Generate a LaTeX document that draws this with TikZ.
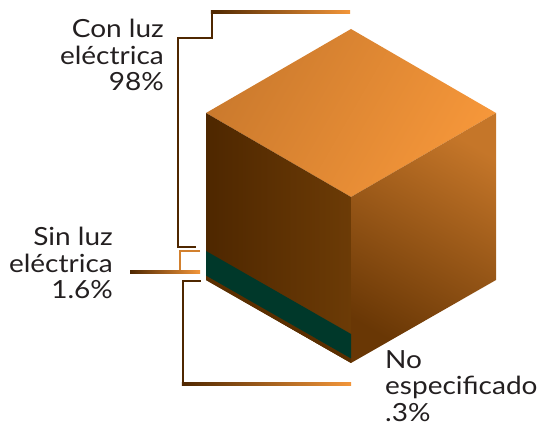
\documentclass[tikz,border=0pt]{standalone}
\usepackage{fontspec}
\setmainfont{Lato}[FakeStretch=1.12]
\usetikzlibrary{calc}
\definecolor{ink}{HTML}{231F20}
\definecolor{lbrown}{HTML}{4F2700}
\definecolor{lorange}{HTML}{F3963A}
\definecolor{topdark}{HTML}{CB7A2D}
\definecolor{toplight}{HTML}{F6973A}
\definecolor{leftdark}{HTML}{4E2700}
\definecolor{leftlight}{HTML}{6C3B06}
\definecolor{rightlight}{HTML}{C57629}
\definecolor{rightdark}{HTML}{693705}
\definecolor{band}{HTML}{00382A}
\definecolor{base}{HTML}{5A2E00}
\tikzset{
  label/.style={inner sep=0pt, text=ink, font=\fontsize{25}{26.5}\selectfont},
  leader/.style={draw=lbrown, line width=2.4pt},
}

\def\Lw{1.2}
\def\Bt{29}
\def\Bb{4.5}

\begin{document}
\begin{tikzpicture}[x=1pt,y=-1pt]
    \useasboundingbox (0,0) rectangle (542,425);
    % cube corners
    \coordinate (T)  at (351, 29);
    \coordinate (L)  at (206,113);
    \coordinate (R)  at (496,113);
    \coordinate (C)  at (351,197);
    \coordinate (LB) at (206,280);
    \coordinate (RB) at (496,280);
    \coordinate (B)  at (351,363);
    % faces
    \shade[left color=topdark, right color=toplight, shading angle=60]
      (T) -- (R) -- (C) -- (L) -- cycle;
    \shade[left color=leftdark, right color=leftlight]
      (L) -- (C) -- (B) -- (LB) -- cycle;
    \shade[left color=rightlight, right color=rightdark, shading angle=-30]
      (C) -- (R) -- (RB) -- (B) -- cycle;
    % bottom layers
    \fill[base] ($(LB)+(0,-\Bb)$) -- ($(B)+(0,-\Bb)$) -- (B) -- (LB) -- cycle;
    \fill[band] ($(LB)+(0,-\Bt)$) -- ($(B)+(0,-\Bt)$)
      -- ($(B)+(0,-\Bb)$) -- ($(LB)+(0,-\Bb)$) -- cycle;

    % labels (base = last line)
    \node[label, anchor=base east, align=right] (Con) at (164,91)
      {Con luz\\eléctrica\\98\%};
    \node[label, anchor=base east, align=right] (Sin) at (113,299)
      {Sin luz\\eléctrica\\1.6\%};
    \node[label, anchor=base west, align=left] (NoEsp) at (385,421)
      {No\\especificado\\.3\%};

    % leaders
    \coordinate (c1) at (212, 12);
    \coordinate (c2) at (212, 38);
    \coordinate (c3) at (178, 38);
    \coordinate (c4) at (178,247);
    \coordinate (c5) at (195,247);
    \coordinate (c6) at (350, 12);
    \draw[leader, line cap=rect] (c1) -- (c2) -- (c3) -- (c4) -- (c5);
    \shade[left color=lbrown, right color=lorange]
      ($(c1)+(-\Lw,-\Lw)$) rectangle ($(c6)+(0,\Lw)$);

    \coordinate (s1) at (200,251);
    \coordinate (s2) at (180,251);
    \coordinate (s3) at (180,272);
    \coordinate (s4) at (130,272);
    \coordinate (s5) at (200,272);
    \draw[leader, draw=lorange!80!lbrown] (s1) -- (s2) -- (s3);
    \shade[left color=lbrown, right color=lorange]
      ($(s4)+(0,-\Lw)$) rectangle ($(s5)+(0,\Lw)$);

    \coordinate (n1) at (200,281);
    \coordinate (n2) at (183,281);
    \coordinate (n3) at (183,384);
    \coordinate (n4) at (351,384);
    \draw[leader, line cap=rect] (n1) -- (n2) -- (n3);
    \shade[left color=lbrown, right color=lorange]
      ($(n3)+(-\Lw,-\Lw)$) rectangle ($(n4)+(0,\Lw)$);
\end{tikzpicture}
\end{document}
